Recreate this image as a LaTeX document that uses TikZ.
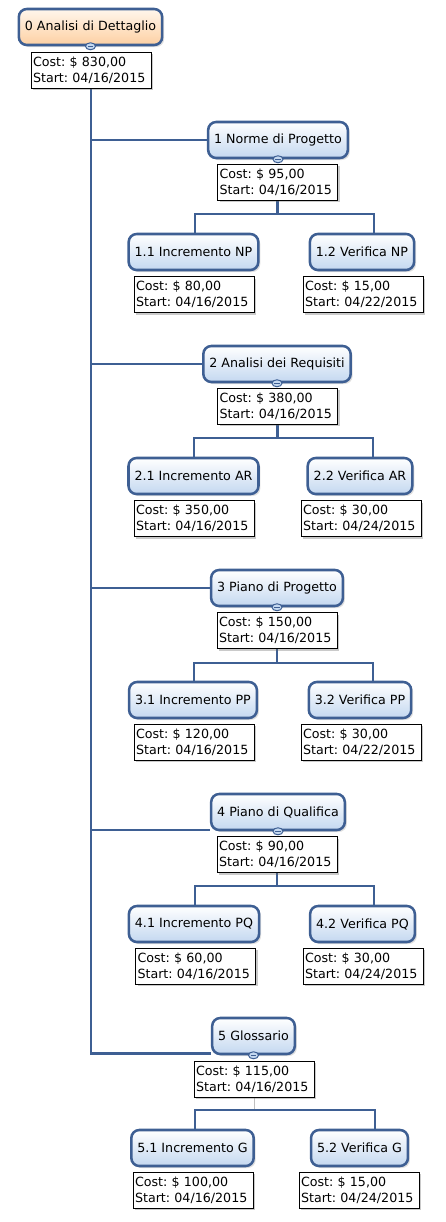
\documentclass[tikz,border=0pt]{standalone}
\usepackage{fontspec}
\setmainfont{DejaVu Sans}
\frenchspacing
\usetikzlibrary{shadows,shapes.geometric}
\definecolor{bdr}{RGB}{62,95,147}
\definecolor{blueF}{RGB}{196,216,240}
\definecolor{peachF}{RGB}{253,208,163}
\definecolor{peachT}{RGB}{255,246,236}
\pgfdeclarelayer{bg}
\pgfsetlayers{bg,main}
\begin{document}
\begin{tikzpicture}[x=0.75pt,y=0.75pt,
 every node/.style={font=\fontsize{9.5}{12}\selectfont, text=black},
 task/.style={draw=bdr, line width=1.9pt, rounded corners=6pt, top color=white, bottom color=blueF, minimum height=27pt, inner xsep=4.5pt, drop shadow={shadow xshift=1.5pt, shadow yshift=-1.5pt, opacity=0.25}},
 rootbox/.style={task, top color=peachT, bottom color=peachF},
 note/.style={draw=black, line width=0.75pt, fill=white, align=left, text width=87pt, inner xsep=1.5pt, inner ysep=1.5pt, minimum height=27pt, drop shadow={shadow xshift=1.5pt, shadow yshift=-1.5pt, opacity=0.35, fill=black!60}},
 conn/.style={draw=bdr, line width=1.9pt},
 thinconn/.style={draw=black!25, line width=0.75pt},
 collapse/.style={ellipse, draw=bdr, line width=0.75pt, fill=blueF, minimum width=7.5pt, minimum height=5.25pt, inner sep=0pt},
]
\useasboundingbox (0,0) rectangle (446,-1222);
% root
\node[rootbox] (r) at (90.5,-27) {0 Analisi di Dettaglio};
\node[note] (rn) at (91,-70) {Cost: \$ 830,00\\Start: 04/16/2015};
% group 1
\node[task] (n1) at (278,-140) {1 Norme di Progetto};
\node[note] (n1n) at (277.5,-182) {Cost: \$ 95,00\\Start: 04/16/2015};
\node[task] (n11) at (193.5,-252) {1.1 Incremento NP};
\node[task] (n12) at (362,-252) {1.2 Verifica NP};
\node[note] (n11n) at (194,-294.5) {Cost: \$ 80,00\\Start: 04/16/2015};
\node[note] (n12n) at (363,-294.5) {Cost: \$ 15,00\\Start: 04/22/2015};
\coordinate (b1l) at (195,-214); \coordinate (b1r) at (374,-214);
% group 2
\node[task] (n2) at (277,-364) {2 Analisi dei Requisiti};
\node[note] (n2n) at (277.5,-406) {Cost: \$ 380,00\\Start: 04/16/2015};
\node[task] (n21) at (193.5,-476) {2.1 Incremento AR};
\node[task] (n22) at (360,-476) {2.2 Verifica AR};
\node[note] (n21n) at (194,-518.5) {Cost: \$ 350,00\\Start: 04/16/2015};
\node[note] (n22n) at (361,-518.5) {Cost: \$ 30,00\\Start: 04/24/2015};
\coordinate (b2l) at (194,-438); \coordinate (b2r) at (373,-438);
% group 3
\node[task] (n3) at (277,-588) {3 Piano di Progetto};
\node[note] (n3n) at (277,-630.5) {Cost: \$ 150,00\\Start: 04/16/2015};
\node[task] (n31) at (193,-700) {3.1 Incremento PP};
\node[task] (n32) at (360,-700) {3.2 Verifica PP};
\node[note] (n31n) at (194,-742) {Cost: \$ 120,00\\Start: 04/16/2015};
\node[note] (n32n) at (361,-742) {Cost: \$ 30,00\\Start: 04/22/2015};
\coordinate (b3l) at (194,-663); \coordinate (b3r) at (373,-663);
% group 4
\node[task] (n4) at (278,-812) {4 Piano di Qualifica};
\node[note] (n4n) at (277,-854.5) {Cost: \$ 90,00\\Start: 04/16/2015};
\node[task] (n41) at (194,-924) {4.1 Incremento PQ};
\node[task] (n42) at (362.5,-924) {4.2 Verifica PQ};
\node[note] (n41n) at (195.5,-966) {Cost: \$ 60,00\\Start: 04/16/2015};
\node[note] (n42n) at (363,-966) {Cost: \$ 30,00\\Start: 04/24/2015};
\coordinate (b4l) at (195,-886); \coordinate (b4r) at (374,-886);
% group 5
\node[task] (n5) at (253.5,-1036) {5 Glossario};
\node[note] (n5n) at (254,-1079) {Cost: \$ 115,00\\Start: 04/16/2015};
\node[task] (n51) at (192.5,-1148) {5.1 Incremento G};
\node[task] (n52) at (359.5,-1148) {5.2 Verifica G};
\node[note] (n51n) at (193,-1190) {Cost: \$ 100,00\\Start: 04/16/2015};
\node[note] (n52n) at (359,-1190) {Cost: \$ 15,00\\Start: 04/24/2015};
\coordinate (b5l) at (195,-1110); \coordinate (b5r) at (375,-1110);
% collapse markers
\foreach \n in {r,n1,n2,n3,n4,n5} {
  \node[collapse] (\n c) at (\n.south) {};
  \draw[bdr, line width=0.9pt] ([xshift=-2pt]\n c.center) -- ([xshift=2pt]\n c.center);
}
% connectors
\begin{pgfonlayer}{bg}
\draw[conn] (rn.south) |- ([yshift=1.5pt]n5.south west);
\draw[conn] (n1.west) -| (rn.south);
\draw[conn] (n2.west) -| (rn.south);
\draw[conn] (n3.west) -| (rn.south);
\draw[conn] ([yshift=1pt]n4.south west) -| (rn.south);
\foreach \g in {1,2,3,4} {
  \draw[conn] (n\g n.south) -- (n\g n.south |- b\g l);
  \draw[conn] (b\g l |- n\g 1.north) -- (b\g l) -- (b\g r) -- (b\g r |- n\g 2.north);
}
\draw[thinconn] (n5n.south) -- (n5n.south |- b5l);
\draw[conn] (b5l |- n51.north) -- (b5l) -- (b5r) -- (b5r |- n52.north);
\end{pgfonlayer}
\end{tikzpicture}
\end{document}
